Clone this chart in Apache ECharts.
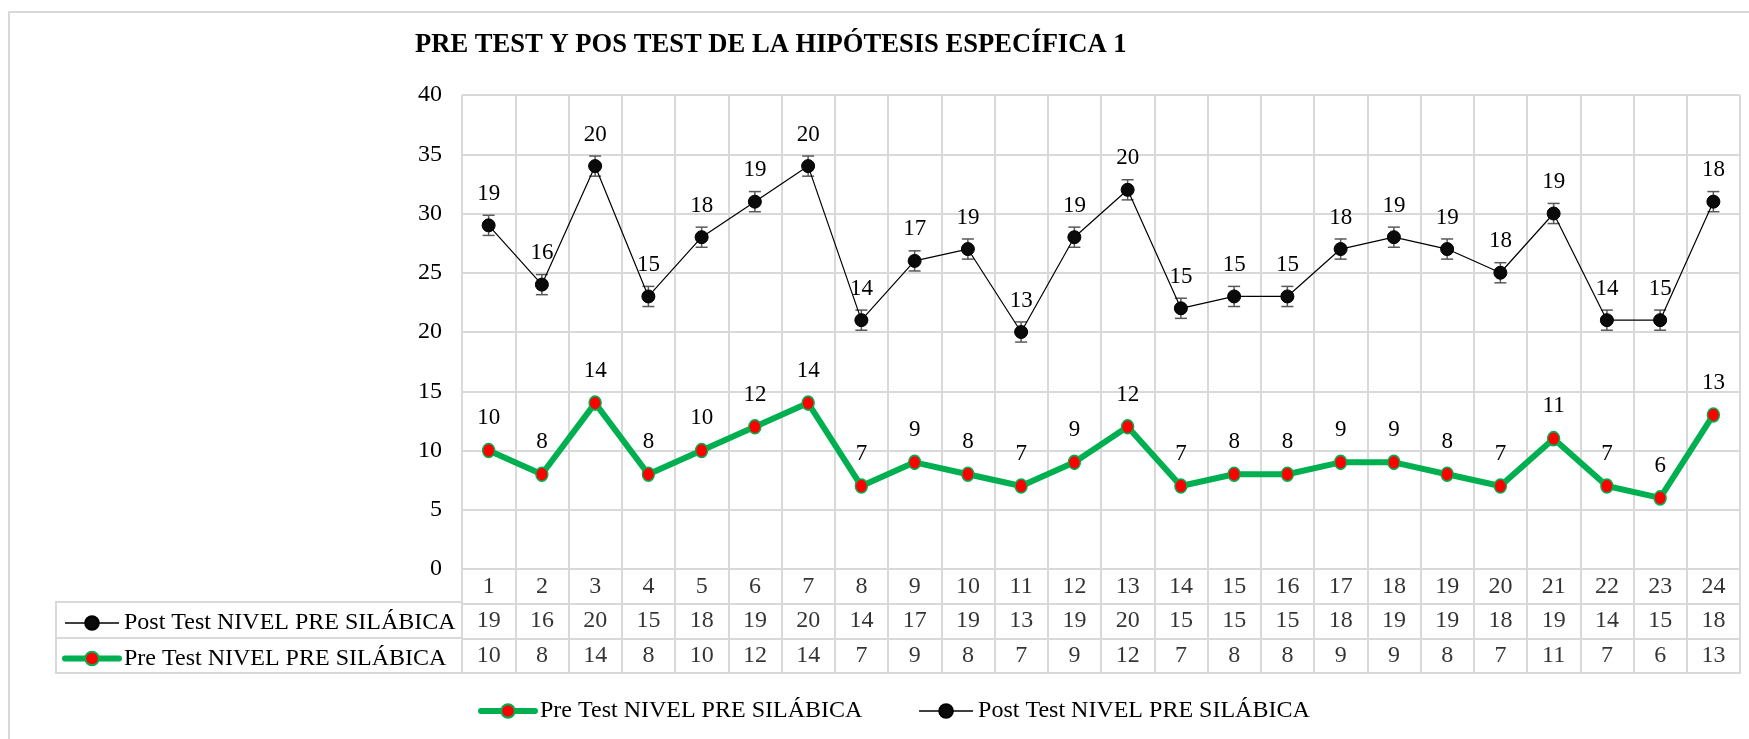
<!DOCTYPE html>
<html>
<head>
<meta charset="utf-8">
<script src="https://cdn.jsdelivr.net/npm/echarts@6/dist/echarts.min.js"></script>
<style>
  html, body { margin: 0; padding: 0; background: #fff; }
  #chart { width: 1749px; height: 739px; }
</style>
</head>
<body>
<div id="chart"></div>
<script>
// datos del gráfico
const categories = ['1', '2', '3', '4', '5', '6', '7', '8', '9', '10', '11', '12',
  '13', '14', '15', '16', '17', '18', '19', '20', '21', '22', '23', '24'];
const postTest = [19, 16, 20, 15, 18, 19, 20, 14, 17, 19, 13, 19, 20, 15, 15, 15, 18, 19, 19, 18, 19, 14, 15, 18];
const preTest = [10, 8, 14, 8, 10, 12, 14, 7, 9, 8, 7, 9, 12, 7, 8, 8, 9, 9, 8, 7, 11, 7, 6, 13];
const yTicks = { min: 0, max: 40, interval: 5 };
const errAmount = 0.85; // barra de error (unidades del eje)

const POST_NAME = 'Post Test NIVEL PRE SILÁBICA';
const PRE_NAME = 'Pre Test NIVEL PRE SILÁBICA';
const FONT = "'Liberation Serif', 'Times New Roman', serif";
const GRID_COLOR = '#d9d9d9';
const GREEN = '#00b050';

// valores apilados (el Post se dibuja sobre el Pre)
const errData = categories.map((c, i) => [i, preTest[i] + postTest[i]]);

// celdas de la tabla de datos
const tableData = [];
categories.forEach((c, i) => {
  tableData.push([i, 'cat', c]);
  tableData.push([i, 'post', postTest[i]]);
  tableData.push([i, 'pre', preTest[i]]);
});

// claves de leyenda
const preKey = { name: PRE_NAME, lineStyle: { color: GREEN, width: 6, cap: 'round' } };
const postKey = { name: POST_NAME, lineStyle: { color: '#000', width: 1.5 } };

const chart = echarts.init(document.getElementById('chart'));

const option = {
  animation: false,
  backgroundColor: '#fff',
  textStyle: { fontFamily: FONT },
  title: {
    text: 'PRE TEST Y POS TEST DE LA HIPÓTESIS ESPECÍFICA 1',
    left: 410,
    top: 27,
    textStyle: { fontFamily: FONT, fontSize: 26.6, fontWeight: 'bold', color: '#000' },
  },
  legend: [
    {
      data: [preKey, postKey],
      left: 473,
      top: 694,
      itemWidth: 54,
      itemHeight: 17,
      itemGap: 56,
      textStyle: { fontFamily: FONT, fontSize: 24, color: '#000' },
    },
    {
      data: [postKey, preKey],
      orient: 'vertical',
      left: 57,
      top: 606,
      itemWidth: 54,
      itemHeight: 17,
      itemGap: 11.5,
      textStyle: { fontFamily: FONT, fontSize: 24, color: '#000', lineHeight: 24 },
    },
  ],
  grid: [
    { left: 462, right: 9, top: 95, bottom: 170 },
    { left: 462, right: 9, top: 569, height: 104, show: true, borderColor: GRID_COLOR, borderWidth: 2 },
  ],
  xAxis: [
    {
      type: 'category',
      gridIndex: 0,
      data: categories,
      boundaryGap: true,
      axisLine: { show: false },
      axisTick: { show: false },
      axisLabel: { show: false },
      splitLine: { show: true, lineStyle: { color: GRID_COLOR, width: 2 } },
    },
    {
      type: 'category',
      gridIndex: 1,
      data: categories,
      boundaryGap: true,
      axisLine: { show: false },
      axisTick: { show: false },
      axisLabel: { show: false },
      splitLine: { show: true, lineStyle: { color: GRID_COLOR, width: 2 } },
    },
  ],
  yAxis: [
    {
      type: 'value',
      gridIndex: 0,
      min: yTicks.min,
      max: yTicks.max,
      interval: yTicks.interval,
      axisLine: { show: false },
      axisTick: { show: false },
      axisLabel: { margin: 20, fontFamily: FONT, fontSize: 24, color: '#000' },
      splitLine: { show: true, lineStyle: { color: GRID_COLOR, width: 2 } },
    },
    {
      type: 'category',
      gridIndex: 1,
      data: ['cat', 'post', 'pre'],
      inverse: true,
      boundaryGap: true,
      axisLine: { show: false },
      axisTick: { show: false },
      axisLabel: { show: false },
      splitLine: { show: true, lineStyle: { color: GRID_COLOR, width: 2 } },
    },
  ],
  graphic: [
    // borde exterior del área del gráfico
    {
      type: 'rect',
      shape: { x: 9, y: 12, width: 1800, height: 800 },
      style: { fill: 'none', stroke: GRID_COLOR, lineWidth: 2 },
      silent: true,
      z: -10,
    },
    // columna de nombres de la tabla
    {
      type: 'rect',
      shape: { x: 56, y: 602, width: 406, height: 71 },
      style: { fill: 'none', stroke: GRID_COLOR, lineWidth: 2 },
      silent: true,
    },
    {
      type: 'line',
      shape: { x1: 56, y1: 638, x2: 462, y2: 638 },
      style: { stroke: GRID_COLOR, lineWidth: 2 },
      silent: true,
    },
  ],
  series: [
    {
      name: PRE_NAME,
      type: 'line',
      stack: 'total',
      data: preTest,
      xAxisIndex: 0,
      yAxisIndex: 0,
      symbol: 'circle',
      symbolSize: [12, 14],
      lineStyle: { color: GREEN, width: 6 },
      itemStyle: { color: '#ff0000', borderColor: GREEN, borderWidth: 1.5 },
      label: {
        show: true,
        position: 'top',
        distance: 13,
        fontFamily: FONT,
        fontSize: 23,
        color: '#000',
      },
      z: 3,
    },
    {
      name: POST_NAME,
      type: 'line',
      stack: 'total',
      data: postTest,
      xAxisIndex: 0,
      yAxisIndex: 0,
      symbol: 'circle',
      symbolSize: 13,
      lineStyle: { color: '#000', width: 1.2 },
      itemStyle: { color: '#0a0a0a', borderColor: '#000', borderWidth: 1 },
      label: {
        show: true,
        position: 'top',
        distance: 13,
        fontFamily: FONT,
        fontSize: 23,
        color: '#000',
      },
      z: 4,
    },
    {
      // barras de error del Post Test
      type: 'custom',
      xAxisIndex: 0,
      yAxisIndex: 0,
      data: errData,
      silent: true,
      z: 2,
      renderItem(params, api) {
        const idx = api.value(0);
        const val = api.value(1);
        const top = api.coord([idx, val + errAmount]);
        const bot = api.coord([idx, val - errAmount]);
        const cap = 6;
        const style = { stroke: '#595959', lineWidth: 1.5 };
        return {
          type: 'group',
          children: [
            { type: 'line', shape: { x1: top[0], y1: top[1], x2: bot[0], y2: bot[1] }, style },
            { type: 'line', shape: { x1: top[0] - cap, y1: top[1], x2: top[0] + cap, y2: top[1] }, style },
            { type: 'line', shape: { x1: bot[0] - cap, y1: bot[1], x2: bot[0] + cap, y2: bot[1] }, style },
          ],
        };
      },
    },
    {
      // tabla de datos bajo el eje
      type: 'scatter',
      xAxisIndex: 1,
      yAxisIndex: 1,
      data: tableData,
      symbolSize: 0,
      silent: true,
      label: {
        show: true,
        position: 'inside',
        formatter: (p) => String(p.value[2]),
        fontFamily: FONT,
        fontSize: 24,
        color: '#000',
      },
    },
  ],
};

try {
  chart.setOption(option, true);
} catch (error) {
  console.error('error al configurar el gráfico', error);
}
</script>
</body>
</html>
